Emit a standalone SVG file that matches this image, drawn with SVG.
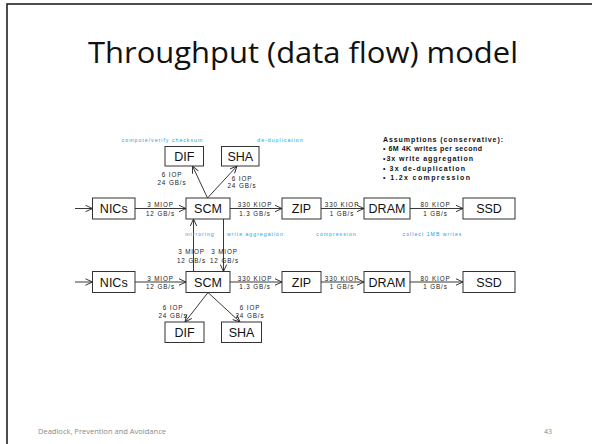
<svg xmlns="http://www.w3.org/2000/svg" width="592" height="444" viewBox="0 0 592 444">
<style>
.box{fill:#fff;stroke:#333;stroke-width:1}
.bt{font-family:"Liberation Sans",Arial,sans-serif;font-size:12.5px;fill:#111;text-anchor:middle}
.sm{font-family:"Liberation Sans",Arial,sans-serif;font-size:6.3px;fill:#222;text-anchor:middle;letter-spacing:0.9px}
.bl{font-family:"Liberation Sans",Arial,sans-serif;font-size:5.2px;fill:#19a2e6;text-anchor:middle;letter-spacing:1px}
.as{font-family:"Liberation Sans",Arial,sans-serif;font-size:7px;font-weight:bold;fill:#111}
.ln{stroke:#222;stroke-width:0.9;fill:none}
.ft{font-family:"Open Sans","Liberation Sans",sans-serif;font-size:7px;fill:#8a8a8a}
</style>
<defs>
<marker id="ah" viewBox="0 0 8 8" refX="7.5" refY="4" markerWidth="8" markerHeight="8" markerUnits="userSpaceOnUse" orient="auto">
<path d="M0.5,0.8 L7.5,4 L0.5,7.2" fill="none" stroke="#222" stroke-width="0.9"/>
</marker>
</defs>
<rect x="7" y="4" width="700" height="600" fill="#fff" stroke="#222" stroke-width="1.6"/>
<text x="303" y="63" font-family="'Open Sans','Liberation Sans',sans-serif" font-size="29" fill="#111" text-anchor="middle" textLength="430" lengthAdjust="spacingAndGlyphs">Throughput (data flow) model</text>

<g id="connectors">
<line class="ln" x1="75" y1="208.5" x2="92.5" y2="208.5" marker-end="url(#ah)"/>
<line class="ln" x1="135" y1="208.5" x2="186" y2="208.5" marker-end="url(#ah)"/>
<line class="ln" x1="230" y1="208.5" x2="282" y2="208.5" marker-end="url(#ah)"/>
<line class="ln" x1="321" y1="208.5" x2="364" y2="208.5" marker-end="url(#ah)"/>
<line class="ln" x1="410" y1="208.5" x2="463" y2="208.5" marker-end="url(#ah)"/>
<line class="ln" x1="207.5" y1="198" x2="192.5" y2="166" marker-end="url(#ah)"/>
<line class="ln" x1="207.5" y1="198" x2="237" y2="166" marker-end="url(#ah)"/>
<line class="ln" x1="193.5" y1="271.5" x2="193.5" y2="219" marker-end="url(#ah)"/>
<line class="ln" x1="223.5" y1="219" x2="223.5" y2="271.5" marker-end="url(#ah)"/>
<line class="ln" x1="75" y1="282" x2="92.5" y2="282" marker-end="url(#ah)"/>
<line class="ln" x1="135" y1="282" x2="186" y2="282" marker-end="url(#ah)"/>
<line class="ln" x1="230" y1="282" x2="282" y2="282" marker-end="url(#ah)"/>
<line class="ln" x1="321" y1="282" x2="364" y2="282" marker-end="url(#ah)"/>
<line class="ln" x1="410" y1="282" x2="463" y2="282" marker-end="url(#ah)"/>
<line class="ln" x1="208" y1="292.5" x2="185" y2="322" marker-end="url(#ah)"/>
<line class="ln" x1="208" y1="292.5" x2="240" y2="322" marker-end="url(#ah)"/>
</g>

<g id="labels">
<text class="sm" x="160.5" y="207">3 MIOP</text><text class="sm" x="160.5" y="215.5">12 GB/s</text>
<text class="sm" x="255" y="207">330 KIOP</text><text class="sm" x="255" y="215.5">1.3 GB/s</text>
<text class="sm" x="342" y="207">330 KIOP</text><text class="sm" x="342" y="215.5">1 GB/s</text>
<text class="sm" x="435.5" y="207">80 KIOP</text><text class="sm" x="435.5" y="215.5">1 GB/s</text>
<text class="sm" x="172" y="176.5">6 IOP</text><text class="sm" x="172" y="184.5">24 GB/s</text>
<text class="sm" x="242" y="180.5">6 IOP</text><text class="sm" x="242" y="188">24 GB/s</text>
<text class="sm" x="191.5" y="254">3 MIOP</text><text class="sm" x="191.5" y="262.5">12 GB/s</text>
<text class="sm" x="224.5" y="254">3 MIOP</text><text class="sm" x="224.5" y="262.5">12 GB/s</text>
<text class="sm" x="160.5" y="280.5">3 MIOP</text><text class="sm" x="160.5" y="289">12 GB/s</text>
<text class="sm" x="255" y="280.5">330 KIOP</text><text class="sm" x="255" y="289">1.3 GB/s</text>
<text class="sm" x="342" y="280.5">330 KIOP</text><text class="sm" x="342" y="289">1 GB/s</text>
<text class="sm" x="435.5" y="280.5">80 KIOP</text><text class="sm" x="435.5" y="289">1 GB/s</text>
<text class="sm" x="173" y="309.5">6 IOP</text><text class="sm" x="173" y="317.5">24 GB/s</text>
<text class="sm" x="250" y="309.5">6 IOP</text><text class="sm" x="250" y="317.5">24 GB/s</text>
<text class="bl" x="162.5" y="142">compute/verify checksum</text>
<text class="bl" x="280.5" y="142">de-duplication</text>
<text class="bl" x="200" y="236">mirroring</text>
<text class="bl" x="255.5" y="236">write aggregation</text>
<text class="bl" x="336.5" y="236">compression</text>
<text class="bl" x="432.5" y="236">collect 1MB writes</text>
</g>

<g id="nics1"><rect class="box" x="92.5" y="198" width="42.5" height="21"/><text class="bt" x="113.75" y="213">NICs</text></g>
<g id="scm1"><rect class="box" x="186" y="198" width="44" height="21"/><text class="bt" x="208" y="213">SCM</text></g>
<g id="zip1"><rect class="box" x="282" y="198" width="39" height="21"/><text class="bt" x="301.5" y="213">ZIP</text></g>
<g id="dram1"><rect class="box" x="364" y="198" width="46" height="21"/><text class="bt" x="387" y="213">DRAM</text></g>
<g id="ssd1"><rect class="box" x="463" y="198" width="52" height="21"/><text class="bt" x="489" y="213">SSD</text></g>
<g id="dif1"><rect class="box" x="165" y="146.5" width="38.5" height="19.5"/><text class="bt" x="184.25" y="160.5">DIF</text></g>
<g id="sha1"><rect class="box" x="221.5" y="146.5" width="37.5" height="19.5"/><text class="bt" x="240.25" y="160.5">SHA</text></g>

<g id="nics2"><rect class="box" x="92.5" y="271.5" width="42.5" height="21"/><text class="bt" x="113.75" y="286.5">NICs</text></g>
<g id="scm2"><rect class="box" x="186" y="271.5" width="44" height="21"/><text class="bt" x="208" y="286.5">SCM</text></g>
<g id="zip2"><rect class="box" x="282" y="271.5" width="39" height="21"/><text class="bt" x="301.5" y="286.5">ZIP</text></g>
<g id="dram2"><rect class="box" x="364" y="271.5" width="46" height="21"/><text class="bt" x="387" y="286.5">DRAM</text></g>
<g id="ssd2"><rect class="box" x="463" y="271.5" width="52" height="21"/><text class="bt" x="489" y="286.5">SSD</text></g>
<g id="dif2"><rect class="box" x="165" y="322" width="39" height="20.5"/><text class="bt" x="184.5" y="336.5">DIF</text></g>
<g id="sha2"><rect class="box" x="221.5" y="322" width="40" height="20.5"/><text class="bt" x="241.5" y="336.5">SHA</text></g>

<g id="assumptions">
<text class="as" x="383" y="142" textLength="120" lengthAdjust="spacing">Assumptions (conservative):</text>
<text class="as" x="383" y="151" textLength="99" lengthAdjust="spacing">• 6M 4K writes per second</text>
<text class="as" x="383" y="161" textLength="90" lengthAdjust="spacing">•3x write aggregation</text>
<text class="as" x="383" y="170.5" textLength="82" lengthAdjust="spacing">• 3x de-duplication</text>
<text class="as" x="383" y="180" textLength="87" lengthAdjust="spacing">• 1.2x compression</text>
</g>

<text class="ft" x="38" y="434" textLength="128" lengthAdjust="spacingAndGlyphs">Deadlock, Prevention and Avoidance</text>
<text class="ft" x="544" y="434">43</text>
</svg>
